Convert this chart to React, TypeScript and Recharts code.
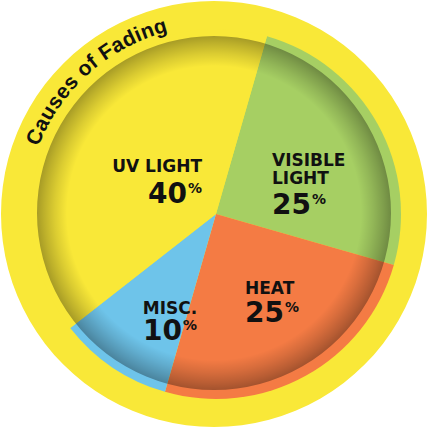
import { PieChart, Pie, Cell } from "recharts";

const categories = ["Visible Light", "Heat", "Misc.", "UV Light"];
const shares = [25, 25, 10, 40];
const title = "Causes of Fading";

const sliceColors = ["#a6cf63", "#f47b44", "#6ec4ea", "#f9e838"];
const YELLOW = "#f9e838";

// where each label block sits, relative to the pie centre (hand tuned)
const labelLayout = [
  { dx: 56, dy: -48, valueDy: 0, anchor: "start", wrap: true },
  { dx: 29, dy: 80, valueDy: 108, anchor: "start", wrap: false },
  { dx: -46, dy: 100, valueDy: 126, anchor: "middle", wrap: false },
  { dx: -14, dy: -42, valueDy: -11, anchor: "end", wrap: false },
];

const data = categories.map((c, i) => ({ name: c, value: shares[i] }));
const disc = [{ name: "bg", value: 1 }];

function SliceLabel(props: any) {
  const { cx, cy, index } = props;
  const l = labelLayout[index];
  const x = cx + l.dx;
  const name = categories[index].toUpperCase();
  const lines = l.wrap ? name.split(" ") : [name];
  return (
    <g fontFamily="'DejaVu Sans', sans-serif" fontWeight="bold" fill="#111">
      {lines.map((t, k) => (
        <text key={k} x={x} y={cy + l.dy + k * 18} textAnchor={l.anchor} fontSize={17}>
          {t}
        </text>
      ))}
      <text x={x} y={cy + l.valueDy} textAnchor={l.anchor} fontSize={28}>
        {shares[index]}
        <tspan fontSize={14} dx={1} dy={-10}>%</tspan>
      </text>
    </g>
  );
}

function TitleArc(props: any) {
  const { cx, cy, outerRadius } = props;
  const r = outerRadius - 25;
  const a0 = (159 * Math.PI) / 180;
  const a1 = (92 * Math.PI) / 180;
  const x0 = cx + r * Math.cos(a0), y0 = cy - r * Math.sin(a0);
  const x1 = cx + r * Math.cos(a1), y1 = cy - r * Math.sin(a1);
  return (
    <g>
      <defs>
        <path id="titleArc" d={`M ${x0} ${y0} A ${r} ${r} 0 0 1 ${x1} ${y1}`} />
        <radialGradient id="rimShade" cx="50%" cy="50%" r="50%">
          <stop offset="0.83" stopColor="#000" stopOpacity={0} />
          <stop offset="0.9" stopColor="#000" stopOpacity={0.12} />
          <stop offset="0.96" stopColor="#000" stopOpacity={0.24} />
          <stop offset="1" stopColor="#000" stopOpacity={0.33} />
        </radialGradient>
      </defs>
      <text fontFamily="'Liberation Sans', Arial, sans-serif" fontWeight="bold" fontSize={21} fill="#111">
        <textPath href="#titleArc" textLength={180} lengthAdjust="spacing">
          {title}
        </textPath>
      </text>
    </g>
  );
}

export default function App() {
  return (
    <div style={{ position: "absolute", left: 0, top: 0, width: 428, height: 429, background: "#fff" }}>
      <PieChart width={428} height={429} margin={{ top: 0, right: 0, bottom: 0, left: 0 }}>
        <Pie
          data={disc}
          dataKey="value"
          cx={214}
          cy={214}
          outerRadius={213}
          fill={YELLOW}
          stroke="none"
          label={TitleArc}
          labelLine={false}
          isAnimationActive={false}
        />
        <Pie
          data={data}
          dataKey="value"
          cx={216}
          cy={214}
          outerRadius={185}
          startAngle={74}
          endAngle={-286}
          stroke="none"
          label={SliceLabel}
          labelLine={false}
          isAnimationActive={false}
        >
          {data.map((d, i) => (
            <Cell key={d.name} fill={sliceColors[i]} />
          ))}
        </Pie>
        <Pie
          data={disc}
          dataKey="value"
          cx={214}
          cy={213}
          outerRadius={177}
          fill="url(#rimShade)"
          stroke="none"
          isAnimationActive={false}
        />
      </PieChart>
    </div>
  );
}
